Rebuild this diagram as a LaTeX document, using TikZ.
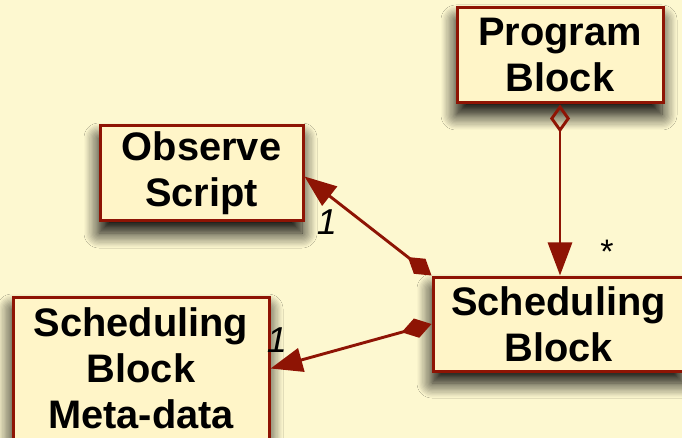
\documentclass[tikz,border=0pt]{standalone}
\usepackage{fontspec}
\setmainfont{Liberation Sans}
\usetikzlibrary{arrows.meta,shadows.blur,calc}
\definecolor{bg}{RGB}{253,248,208}
\definecolor{boxfill}{RGB}{255,245,200}
\definecolor{umlred}{RGB}{142,20,4}

\begin{document}
\begin{tikzpicture}[x=1pt,y=-1pt,
  umlbox/.style={rectangle, draw=umlred, line width=3pt, fill=boxfill,
    inner sep=0pt, align=center,
    font=\fontsize{39.8}{46}\selectfont\bfseries,
    blur shadow={shadow xshift=-1pt, shadow yshift=-12pt,
      shadow blur radius=15pt, shadow opacity=100, shadow blur steps=12}},
  conn/.style={draw=umlred, line width=2.9pt},
  mult/.style={font=\fontsize{36}{40}\selectfont\itshape, inner sep=0pt},
  star/.style={font=\fontsize{34}{36}\selectfont, inner sep=0pt}]

% canvas
\fill[bg] (0,0) rectangle (682,438);
\useasboundingbox (0,0) rectangle (682,438);

% classes
\node[umlbox, minimum width=206pt, minimum height=95pt] (prog) at (560,55.5) {Program\\Block};
\node[umlbox, minimum width=203pt, minimum height=95pt] (obs) at (201.5,173.5) {Observe\\Script};
\node[umlbox, minimum width=251pt, minimum height=94pt] (sched) at (558.5,324) {Scheduling\\Block};
\node[umlbox, minimum width=256pt, minimum height=143pt] (meta) at (141,368.5) {Scheduling\\Block\\Meta-data};

% associations
\draw[conn, {Diamond[open,length=28pt,width=20pt]}-{Triangle[length=33pt,width=24pt]}]
  (prog.south) -- (prog.south |- sched.north);
\draw[conn, {Diamond[length=30pt,width=19pt]}-{Triangle[length=32pt,width=24pt]}]
  (sched.north west) -- ($(obs.east)+(0,3)$);
\draw[conn, {Diamond[length=31pt,width=20pt]}-{Triangle[length=32pt,width=24pt]}]
  (sched.west) -- (meta.east);

% multiplicities
\node[mult] (m1) at (327,222) {1};
\node[mult] (m2) at (277,340) {1};
\node[star] (m3) at (607,252) {*};
\end{tikzpicture}
\end{document}
